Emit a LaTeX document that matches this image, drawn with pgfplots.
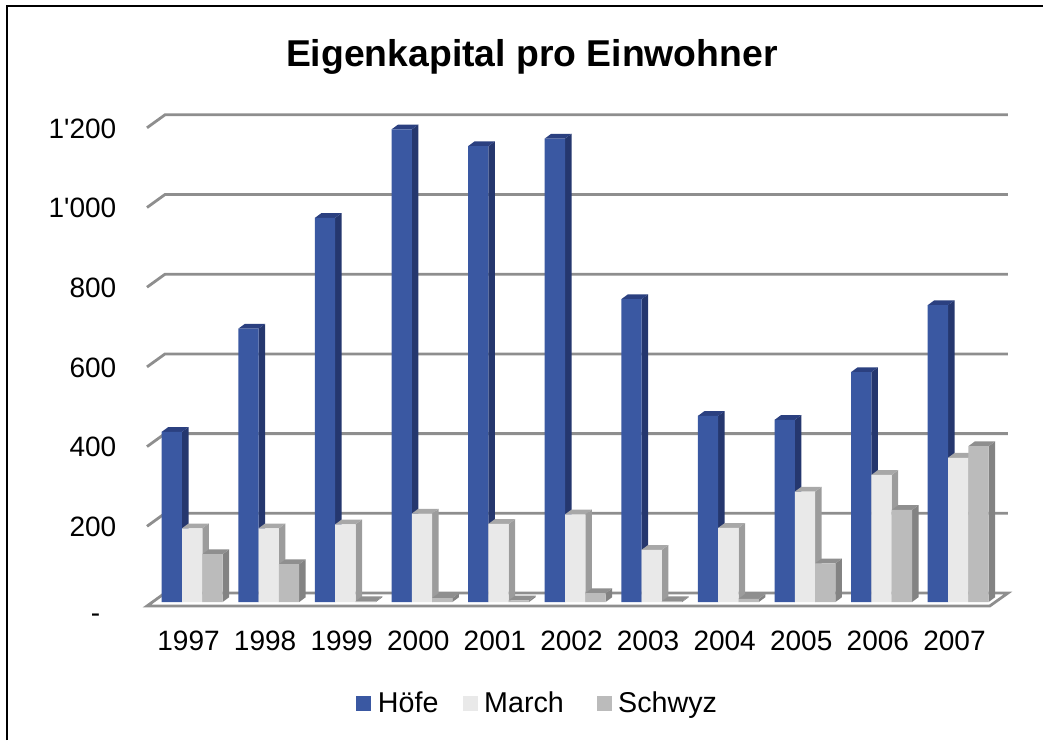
\documentclass[border=0pt]{standalone}
\usepackage{fontspec}
\setmainfont{Liberation Sans}
\usepackage{pgfplots}
\usepackage{pgfplotstable}
\pgfplotsset{compat=1.18}
\definecolor{hoF}{HTML}{3A58A2}\definecolor{hoS}{HTML}{25376E}\definecolor{hoT}{HTML}{2B4080}
\definecolor{maF}{HTML}{E9E9E9}\definecolor{maS}{HTML}{9C9C9C}\definecolor{maT}{HTML}{A8A8A8}
\definecolor{scF}{HTML}{BBBBBB}\definecolor{scS}{HTML}{838383}\definecolor{scT}{HTML}{8F8F8F}
\definecolor{gridc}{HTML}{8E8E8E}
\pgfplotstableread{
yr v
1997 427
1998 686
1999 964
2000 1186
2001 1144
2002 1163
2003 760
2004 467
2005 457
2006 577
2007 745
}\hoefe
\pgfplotstableread{
yr v
1997 185
1998 185
1999 195
2000 222
2001 196
2002 220
2003 131
2004 186
2005 277
2006 319
2007 362
}\march
\pgfplotstableread{
yr v
1997 120
1998 95
1999 2
2000 10
2001 4
2002 22
2003 2
2004 8
2005 97
2006 231
2007 391
}\schwyz
% table, bar centre offset in px, side colour, top colour
\newcommand\depthfaces[4]{%
  \pgfplotsinvokeforeach{0,...,10}{%
    \pgfplotstablegetelem{##1}{v}\of{#1}\pgfmathsetmacro\val{\pgfplotsretval}%
    \pgfplotstablegetelem{##1}{yr}\of{#1}\pgfmathsetmacro\yrr{\pgfplotsretval}%
    \pgfmathsetmacro\xl{\yrr+(#2-10.15)/76.6}%
    \pgfmathsetmacro\xr{\yrr+(#2+10.15)/76.6}%
    \pgfmathsetmacro\xd{\xr+6.5/76.6}%
    \pgfmathsetmacro\xe{\xl+6.5/76.6}%
    \pgfmathsetmacro\vt{\val+12}%
    \addplot[fill=#3,draw=none,forget plot] coordinates {(\xr,0) (\xd,12) (\xd,\vt) (\xr,\val)} -- cycle;
    \addplot[fill=#4,draw=none,forget plot] coordinates {(\xl,\val) (\xe,\vt) (\xd,\vt) (\xr,\val)} -- cycle;
  }%
}
\newcommand\gridrow[1]{%
  \pgfmathsetmacro\ga{#1-10}\pgfmathsetmacro\gb{#1+22.6}%
  \addplot[gridc,line width=2.1pt,forget plot] coordinates {(1996.458,\ga) (1996.693,\gb) (2007.698,\gb)};
}
\begin{document}
\begin{tikzpicture}[x=0.75pt,y=0.75pt]
\useasboundingbox (0,0) rectangle (1043,740);
\draw[black,line width=1.5pt] (7,0) -- (7,734) -- (1043,734);
\begin{axis}[
  at={(110.25pt,100.5pt)},anchor=south west,
  x=57.45pt,y=0.298875pt,
  xmin=1996.458,xmax=2007.698,ymin=-10,ymax=1260,
  clip=false,
  axis line style={draw=none},
  tick style={draw=none},
  xtick={1997,...,2007},
  xticklabels={1997,1998,1999,2000,2001,2002,2003,2004,2005,2006,2007},
  ytick={0,200,...,1200},
  yticklabels={{\vphantom{0}\raisebox{-4.5pt}[0pt][0pt]{-}\rule{12pt}{0pt}},200,400,600,800,{1\textquotesingle000},{1\textquotesingle200}},
  ticklabel style={font=\fontsize{21pt}{25pt}\selectfont},
  xticklabel style={yshift=-15pt},
  yticklabel style={anchor=east,xshift=-19.5pt,yshift=-3.5pt},
  title={\fontsize{28pt}{33pt}\selectfont\bfseries Eigenkapital pro Einwohner},
  title style={at={(axis description cs:0.447,1.069)},anchor=center},
  legend columns=3,
  legend style={at={(axis description cs:0.4541,-0.192)},anchor=center,draw=none,fill=none,
    font=\fontsize{21.5pt}{25pt}\selectfont,
    /tikz/every odd column/.append style={column sep=3pt},
    /tikz/every even column/.append style={column sep=12pt}},
  legend image code/.code={\fill[#1] (0pt,-5.6pt) rectangle (11.25pt,5.6pt);},
]
\gridrow{200}\gridrow{400}\gridrow{600}\gridrow{800}\gridrow{1000}\gridrow{1200}
\addplot[gridc,line width=2.1pt,fill=white,forget plot] coordinates {(1996.458,-10) (2007.46,-10) (2007.698,22.6) (1996.693,22.6)} -- cycle;
\depthfaces{\hoefe}{-16.65}{hoS}{hoT}
\addplot[ybar,bar width=15.2pt,bar shift=-12.49pt,fill=hoF,draw=none] table[x=yr,y=v]{\hoefe};
\addlegendentry{Höfe\rule{4pt}{0pt}}
\depthfaces{\march}{3.65}{maS}{maT}
\addplot[ybar,bar width=15.2pt,bar shift=2.74pt,fill=maF,draw=none] table[x=yr,y=v]{\march};
\addlegendentry{March\rule{10.5pt}{0pt}}
\depthfaces{\schwyz}{23.95}{scS}{scT}
\addplot[ybar,bar width=15.2pt,bar shift=17.96pt,fill=scF,draw=none] table[x=yr,y=v]{\schwyz};
\addlegendentry{Schwyz}
\end{axis}
\end{tikzpicture}
\end{document}
